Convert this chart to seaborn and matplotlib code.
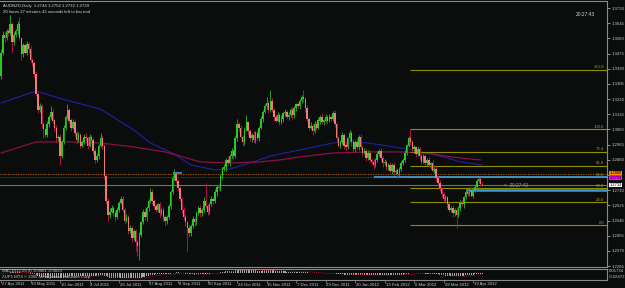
import numpy as np
import pandas as pd
import matplotlib
matplotlib.use("Agg")
import matplotlib.pyplot as plt
import matplotlib.transforms as mtransforms
import seaborn as sns

# ---------------- data ----------------
symbol_title = "AUDNZD,Daily  1.2744 1.2754 1.2732 1.2739"
timer_text = "20 hours 27 minutes 43 seconds left to bar end"
clock_text = "20:27:43"
bid_timer_text = "<  20:27:43"

date_labels = ["27 Apr 2011", "19 May 2011", "10 Jun 2011", "4 Jul 2011", "26 Jul 2011",
               "17 Aug 2011", "8 Sep 2011", "30 Sep 2011", "24 Oct 2011", "15 Nov 2011",
               "7 Dec 2011", "29 Dec 2011", "20 Jan 2012", "13 Feb 2012", "6 Mar 2012",
               "28 Mar 2012", "19 Apr 2012"]
date_label_bars = [0, 16, 32, 48, 64, 80, 96, 112, 128, 144, 160, 176, 192, 208, 224, 240, 256]

price_ticks = [1.3730, 1.3645, 1.3560, 1.3475, 1.3390, 1.3305, 1.3220, 1.3135, 1.3050,
               1.2965, 1.2880, 1.2795, 1.2710, 1.2625, 1.2540, 1.2455, 1.2370, 1.2285]
hidden_tick = 1.2795  # covered by the price-label boxes in the reference

first_open = 1.3350
closes = [
    1.3480, 1.3580, 1.3560, 1.3600, 1.3590, 1.3640, 1.3540, 1.3580, 1.3600, 1.3640,
    1.3560, 1.3470, 1.3520, 1.3480, 1.3530, 1.3500, 1.3440, 1.3420, 1.3360, 1.3250,
    1.3160, 1.3180, 1.3080, 1.3050, 1.3020, 1.3080, 1.3120, 1.3150, 1.3100, 1.3060,
    1.3000, 1.3010, 1.2900, 1.2980, 1.3060, 1.3120, 1.3160, 1.3100, 1.3060, 1.3090,
    1.3030, 1.2990, 1.3020, 1.2960, 1.2980, 1.3010, 1.3000, 1.2960, 1.3010, 1.2990,
    1.2930, 1.2880, 1.2900, 1.2960, 1.3000, 1.2960, 1.2790, 1.2650, 1.2570, 1.2590,
    1.2610, 1.2580, 1.2560, 1.2600, 1.2640, 1.2660, 1.2600, 1.2540, 1.2560, 1.2480,
    1.2500, 1.2440, 1.2480, 1.2420, 1.2400, 1.2460, 1.2530, 1.2590, 1.2560, 1.2610,
    1.2650, 1.2700, 1.2650, 1.2620, 1.2600, 1.2630, 1.2580, 1.2600, 1.2560, 1.2540,
    1.2560, 1.2620, 1.2700, 1.2780, 1.2800, 1.2760, 1.2720, 1.2660, 1.2600, 1.2560,
    1.2530, 1.2500, 1.2470, 1.2510, 1.2550, 1.2530, 1.2580, 1.2610, 1.2580, 1.2600,
    1.2650, 1.2620, 1.2590, 1.2630, 1.2660, 1.2650, 1.2700, 1.2730, 1.2720, 1.2790,
    1.2830, 1.2840, 1.2880, 1.2860, 1.2900, 1.2930, 1.2900, 1.3000, 1.3080, 1.3060,
    1.3010, 1.2980, 1.3050, 1.3090, 1.3040, 1.3000, 1.3020, 1.2990, 1.3030, 1.3000,
    1.3060, 1.3110, 1.3150, 1.3180, 1.3200, 1.3160, 1.3210, 1.3160, 1.3120, 1.3100,
    1.3130, 1.3090, 1.3110, 1.3140, 1.3150, 1.3120, 1.3130, 1.3160, 1.3130, 1.3170,
    1.3190, 1.3180, 1.3210, 1.3230, 1.3220, 1.3170, 1.3110, 1.3060, 1.3070, 1.3040,
    1.3080, 1.3060, 1.3100, 1.3120, 1.3090, 1.3100, 1.3120, 1.3100, 1.3120, 1.3110,
    1.3140, 1.3080, 1.3000, 1.2960, 1.2980, 1.3020, 1.2960, 1.2950, 1.3000, 1.3030,
    1.2980, 1.2940, 1.2980, 1.2950, 1.3010, 1.2950, 1.2920, 1.2930, 1.2890, 1.2920,
    1.2880, 1.2870, 1.2850, 1.2880, 1.2910, 1.2930, 1.2890, 1.2860, 1.2870, 1.2840,
    1.2850, 1.2820, 1.2850, 1.2810, 1.2820, 1.2800, 1.2830, 1.2860, 1.2880, 1.2920,
    1.2960, 1.3000, 1.2980, 1.2940, 1.2950, 1.2910, 1.2940, 1.2900, 1.2870, 1.2900,
    1.2860, 1.2880, 1.2850, 1.2860, 1.2820, 1.2830, 1.2780, 1.2750, 1.2720, 1.2690,
    1.2660, 1.2670, 1.2630, 1.2600, 1.2610, 1.2580, 1.2600, 1.2570, 1.2610, 1.2640,
    1.2630, 1.2670, 1.2700, 1.2690, 1.2710, 1.2680, 1.2710, 1.2730, 1.2760, 1.2770,
    1.2744, 1.2739,
]
# upper / lower wick lengths in pips
wick_up = [
    20, 20, 15, 10, 15, 50, 10, 15, 10, 15,
    40, 10, 15, 10, 15, 10, 15, 10, 15, 15,
    10, 20, 15, 10, 10, 15, 10, 30, 15, 10,
    15, 10, 15, 10, 15, 10, 30, 10, 15, 20,
    15, 10, 15, 10, 10, 15, 20, 10, 15, 10,
    10, 15, 20, 10, 30, 15, 10, 10, 15, 20,
    15, 10, 20, 15, 10, 20, 15, 10, 15, 10,
    15, 10, 15, 10, 10, 15, 10, 15, 20, 10,
    10, 20, 15, 10, 15, 10, 15, 10, 15, 10,
    10, 15, 10, 15, 30, 20, 10, 15, 10, 15,
    15, 10, 15, 10, 15, 10, 15, 10, 15, 10,
    20, 100, 15, 10, 15, 10, 15, 10, 20, 10,
    10, 15, 10, 15, 10, 15, 10, 15, 30, 10,
    15, 10, 15, 40, 10, 15, 10, 20, 10, 15,
    10, 15, 10, 15, 30, 10, 60, 15, 10, 15,
    15, 10, 20, 10, 15, 10, 15, 10, 15, 10,
    10, 15, 10, 15, 40, 10, 15, 10, 20, 10,
    15, 10, 15, 10, 20, 10, 15, 10, 15, 10,
    15, 20, 10, 15, 10, 15, 10, 20, 10, 15,
    10, 15, 10, 20, 10, 15, 10, 15, 10, 15,
    15, 10, 15, 10, 20, 10, 15, 10, 15, 10,
    10, 15, 10, 15, 10, 15, 10, 15, 10, 15,
    10, 15, 50, 10, 15, 10, 15, 10, 15, 10,
    15, 10, 15, 10, 20, 10, 15, 10, 15, 10,
    10, 15, 10, 20, 10, 15, 10, 15, 10, 15,
    15, 10, 15, 10, 15, 20, 10, 15, 10, 10,
    15, 10,
]
wick_dn = [
    20, 15, 20, 10, 15, 10, 60, 15, 10, 15,
    10, 30, 15, 10, 15, 20, 10, 15, 20, 15,
    20, 15, 20, 50, 15, 10, 15, 10, 15, 20,
    20, 15, 50, 10, 10, 15, 10, 15, 20, 10,
    15, 20, 10, 15, 10, 10, 15, 20, 10, 15,
    15, 20, 10, 15, 10, 20, 15, 20, 30, 15,
    10, 15, 20, 10, 15, 10, 15, 20, 10, 15,
    10, 20, 10, 50, 60, 80, 15, 10, 15, 20,
    15, 10, 20, 15, 10, 15, 20, 10, 25, 30,
    20, 10, 15, 10, 15, 10, 15, 10, 20, 15,
    20, 130, 20, 15, 10, 20, 15, 10, 20, 15,
    15, 10, 20, 15, 10, 15, 10, 20, 10, 15,
    15, 10, 20, 10, 15, 10, 20, 10, 15, 20,
    10, 20, 15, 10, 20, 15, 20, 10, 15, 10,
    15, 10, 20, 10, 15, 20, 10, 15, 20, 10,
    10, 15, 10, 20, 15, 10, 15, 10, 20, 15,
    15, 10, 15, 10, 15, 20, 10, 15, 10, 20,
    10, 15, 10, 20, 10, 15, 10, 20, 10, 15,
    10, 15, 20, 10, 15, 10, 20, 15, 10, 15,
    20, 10, 15, 10, 15, 10, 20, 10, 15, 10,
    10, 15, 20, 10, 15, 10, 15, 20, 10, 15,
    15, 10, 20, 15, 10, 20, 10, 15, 10, 15,
    15, 10, 15, 20, 10, 15, 10, 20, 15, 10,
    10, 15, 10, 20, 10, 15, 20, 10, 15, 20,
    15, 10, 20, 10, 15, 20, 15, 70, 10, 15,
    10, 20, 10, 15, 10, 10, 15, 10, 15, 10,
    10, 7,
]

ma_blue_bars = [0, 19, 35, 54, 72, 81, 94, 103, 116, 124, 135, 146, 162, 180, 189, 199, 213, 223, 240, 249, 261]
ma_blue = [1.3198, 1.3265, 1.3215, 1.3164, 1.3047, 1.2974, 1.2912, 1.2851, 1.2823, 1.2828, 1.2862,
           1.2901, 1.2935, 1.2974, 1.2980, 1.2974, 1.2952, 1.2935, 1.2896, 1.2868, 1.2851]
ma_red_bars = [0, 19, 37, 54, 72, 89, 97, 108, 124, 140, 151, 162, 180, 199, 216, 231, 244, 260]
ma_red = [1.2918, 1.2980, 1.2980, 1.2974, 1.2952, 1.2924, 1.2901, 1.2868, 1.2862, 1.2868, 1.2879,
          1.2896, 1.2918, 1.2924, 1.2924, 1.2918, 1.2896, 1.2879]

fib_low = 1.2515
fib_high = 1.3052
fib_start_bar = 222
fib_levels = [0.0, 23.6, 38.2, 50.0, 61.8, 76.4, 100.0, 161.8]
fib_names = ["0.0", "23.6", "38.2", "50.0", "61.8", "76.4", "100.0", "161.8"]

orange_level = 1.2800
magenta_level = 1.2783
bid_level = 1.2739
blue_level_1, blue_level_1_start = 1.2784, 202
blue_level_2, blue_level_2_start = 1.2711, 252
blue_marker_level, blue_marker_bars = 1.2808, (93, 98)
box_labels = [("1.2800", orange_level, "#ff8c00"), ("1.2783", magenta_level, "#ff00ff"),
              ("1.2739", bid_level, "#ffffff")]

macd_title = "MACD(12,26,9) -0.0061 -0.0029"
macd_copyright = "ZUP1 MT4 \u00a9 2005 MetaQuotes Software Corp."
macd_top_label = "0.01734"
macd_bottom_label = "-0.02472"

# ---------------- style ----------------
BG = "#0b0d0d"
FG = "#c8c8c8"
sns.set_theme(style="dark", rc={"axes.facecolor": BG, "figure.facecolor": BG})
plt.rcParams["font.family"] = ["Liberation Sans", "DejaVu Sans"]
FS = 3.1

W, H = 625, 288
fig = plt.figure(figsize=(W / 100, H / 100), dpi=100, facecolor=BG)
ax = fig.add_axes([0 / W, 1 - 267 / H, 607 / W, 266 / H])
axm = fig.add_axes([0 / W, 1 - 280 / H, 607 / W, 11 / H], sharex=ax)

X0, X1 = -0.54, 328.6
Y0, Y1 = 1.22796, 1.37692

# candles
n = len(closes)
idx = np.arange(n)
c = np.array(closes)
o = np.r_[first_open, c[:-1]]
hi = np.maximum(o, c) + np.array(wick_up) / 10000.0
lo = np.minimum(o, c) - np.array(wick_dn) / 10000.0
up = c >= o
ax.vlines(idx[up], lo[up], hi[up], color="#1ea01e", lw=0.7, zorder=3)
ax.vlines(idx[~up], lo[~up], hi[~up], color="#b01440", lw=0.7, zorder=3)
ax.bar(idx[up], c[up] - o[up], bottom=o[up], width=0.8, color="#22cc22", lw=0, zorder=4)
ax.bar(idx[~up], o[~up] - c[~up], bottom=c[~up], width=0.8, color="#f07a7a", lw=0, zorder=4)

# moving averages
sns.lineplot(x=ma_blue_bars, y=ma_blue, ax=ax, color="#2020a8", lw=0.8, estimator=None, sort=False, zorder=2)
sns.lineplot(x=ma_red_bars, y=ma_red, ax=ax, color="#8c1040", lw=0.9, estimator=None, sort=False, zorder=2)

# horizontal levels
ax.axhline(orange_level, color="#c86400", lw=0.6, ls=(0, (1.5, 1.5)), zorder=2)
ax.axhline(magenta_level, color="#8a2090", lw=0.6, ls=(0, (1.5, 1.5)), zorder=2)
ax.axhline(bid_level, color="#6e7070", lw=0.8, zorder=2)
ax.hlines(blue_level_1, blue_level_1_start, X1, color="#3a8fd0", lw=1.4, zorder=2)
ax.hlines(blue_level_2, blue_level_2_start, X1, color="#3a9ae0", lw=1.8, zorder=2)
ax.hlines(blue_marker_level, *blue_marker_bars, color="#3a8fd0", lw=1.2, zorder=5)

# fibonacci
for lvl, name in zip(fib_levels, fib_names):
    p = fib_low + (fib_high - fib_low) * lvl / 100.0
    ax.hlines(p, fib_start_bar, X1, color="#8f8f00", lw=0.8, zorder=2)
    ax.text(X1 - 1.5, p + 0.0002, name, color="#a0a000", fontsize=FS, ha="right", va="bottom", zorder=6)

ax.text(273, bid_level - 0.0002, bid_timer_text, color="#a0a0a0", fontsize=FS + 0.3, ha="left", va="center", zorder=6)

ax.set_xlim(X0, X1)
ax.set_ylim(Y0, Y1)
ax.yaxis.tick_right()
ax.set_yticks(price_ticks)
ax.set_yticklabels(["" if v == hidden_tick else f"{v:.4f}" for v in price_ticks])
ax.tick_params(axis="y", colors=FG, labelsize=FS, length=2, width=0.5, pad=1.5, right=True)
ax.tick_params(axis="x", bottom=False, labelbottom=False)
ax.grid(False)
ax.set_xlabel("")
ax.set_ylabel("")
for s in ax.spines.values():
    s.set_color("#8a8a8a")
    s.set_linewidth(0.8)
ax.spines["left"].set_visible(False)

# price label boxes on the right
tr = mtransforms.blended_transform_factory(ax.transAxes, ax.transData)
box_offsets = [0.0004, -0.0004, 0.0]
for (txt, p, col), off in zip(box_labels, box_offsets):
    ax.text(1.004, p + off, txt, transform=tr, fontsize=FS - 0.2, color="#000000", ha="left", va="center",
            bbox=dict(boxstyle="square,pad=0.08", fc=col, ec="none"), clip_on=False, zorder=8)

# titles
fig.text(3 / W, 1 - 6 / H, symbol_title, color="#d8d8d8", fontsize=FS, ha="left", va="center")
fig.text(3 / W, 1 - 12 / H, timer_text, color="#d8d8d8", fontsize=FS, ha="left", va="center")
fig.text(576 / W, 1 - 14 / H, clock_text, color="#d8d8d8", fontsize=FS + 0.4, ha="left", va="center")

# MACD sub-window
cs = pd.Series(c)
macd = cs.ewm(span=12, adjust=False).mean() - cs.ewm(span=26, adjust=False).mean()
signal = macd.rolling(9, min_periods=1).mean()
axm.bar(idx, macd.values, width=0.55, color="#a8a8a8", lw=0)
sns.lineplot(x=idx, y=signal.values, ax=axm, color="#d01838", lw=0.6, ls=(0, (1, 1.5)), estimator=None)
axm.set_ylim(-0.018, 0.012)
axm.set_yticks([])
axm.set_xlabel("")
axm.set_ylabel("")
axm.grid(False)
for s in axm.spines.values():
    s.set_color("#8a8a8a")
    s.set_linewidth(0.8)
axm.spines["left"].set_visible(False)
fig.text(609 / W, 1 - 271 / H, macd_top_label, color=FG, fontsize=FS, ha="left", va="center")
fig.text(609 / W, 1 - 276.5 / H, macd_bottom_label, color=FG, fontsize=FS, ha="left", va="center")
axm.text(0.004, 0.78, macd_title, transform=axm.transAxes, color="#c8c8c8", fontsize=FS, ha="left", va="center")
axm.text(0.004, 0.3, macd_copyright, transform=axm.transAxes, color="#c8c8c8", fontsize=FS, ha="left", va="center")

axm.set_xticks(date_label_bars)
axm.set_xticklabels([])
axm.tick_params(axis="x", colors="#8a8a8a", length=2, width=0.5, bottom=True, labelbottom=False)
trx = mtransforms.blended_transform_factory(axm.transData, fig.transFigure)
for b, lab in zip(date_label_bars, date_labels):
    axm.text(b + 0.5, 1 - 284.5 / H, lab, transform=trx, color=FG, fontsize=FS, ha="left", va="center", clip_on=False)

fig.savefig("out.png", dpi=100, facecolor=BG)
